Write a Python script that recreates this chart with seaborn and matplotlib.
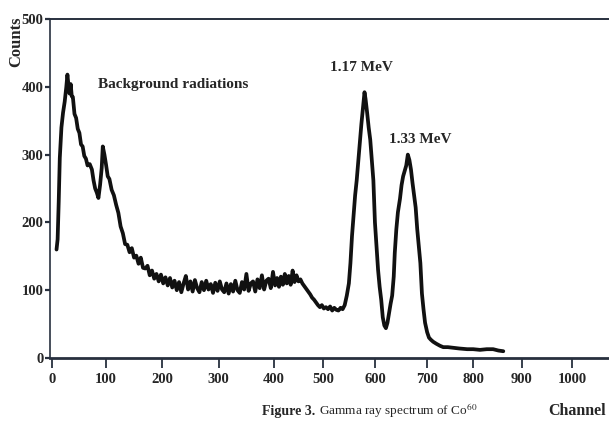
import numpy as np
import pandas as pd
import matplotlib
matplotlib.use("Agg")
import matplotlib.pyplot as plt
import seaborn as sns

# ========== Data ==========
channel = [9, 11, 13, 15, 18, 21, 24, 27, 29, 31, 33, 35, 37, 39, 42, 45, 48, 51, 54, 57,
           60, 63, 66, 70, 74, 77, 80, 83, 86, 89, 92, 94, 97, 100, 103, 106, 110, 114, 118, 122,
           126, 130, 134, 138, 142, 146, 150, 154, 158, 162, 166, 170, 174, 178, 182, 186, 190, 194, 198, 202,
           206, 210, 214, 218, 222, 226, 230, 234, 238, 242, 246, 250, 254, 258, 262, 266, 270, 274, 278, 282,
           286, 290, 294, 298, 302, 306, 310, 314, 318, 322, 326, 330, 334, 338, 342, 346, 350, 354, 358, 362,
           366, 370, 374, 378, 382, 386, 390, 394, 398, 402, 406, 410, 414, 418, 422, 426, 430, 434, 438, 442,
           446, 450, 454, 458, 462, 466, 470, 474, 478, 482, 486, 490, 494, 498, 502, 506, 510, 514, 518, 522,
           526, 530, 534, 538, 542, 546, 550, 553, 556, 559, 562, 565, 568, 571, 574, 577, 580, 582, 585, 588,
           591, 594, 597, 600, 603, 606, 609, 612, 615, 618, 621, 624, 627, 630, 633, 636, 638, 641, 644, 648,
           651, 654, 657, 660, 663, 666, 669, 672, 675, 678, 681, 684, 687, 690, 693, 696, 700, 704, 708, 713,
           720, 728, 735, 745, 757, 770, 787, 800, 814, 828, 841, 852, 862]
counts = [160, 175, 230, 295, 340, 362, 378, 400, 418, 402, 390, 404, 386, 385, 360, 354, 338, 332, 315, 312,
          298, 294, 284, 286, 278, 262, 250, 244, 236, 255, 280, 312, 300, 285, 268, 264, 248, 240, 226, 214,
          194, 184, 168, 167, 156, 162, 148, 151, 139, 148, 133, 132, 136, 122, 129, 117, 124, 113, 123, 110,
          119, 107, 118, 104, 114, 100, 112, 97, 110, 121, 101, 113, 98, 115, 103, 97, 112, 100, 114, 101,
          109, 96, 111, 99, 113, 101, 97, 110, 95, 109, 98, 114, 100, 96, 112, 101, 124, 99, 110, 113,
          98, 116, 103, 122, 101, 114, 117, 103, 127, 107, 118, 105, 120, 108, 124, 110, 121, 108, 129, 112,
          122, 113, 116, 110, 106, 102, 98, 94, 89, 86, 82, 78, 75, 78, 73, 75, 72, 76, 70, 74,
          71, 70, 74, 72, 78, 92, 110, 140, 180, 210, 240, 262, 290, 318, 345, 368, 392, 382, 362, 340,
          322, 292, 262, 200, 165, 130, 105, 86, 60, 48, 44, 52, 66, 80, 92, 120, 155, 190, 215, 235,
          255, 268, 276, 284, 300, 292, 278, 258, 240, 222, 190, 165, 140, 95, 72, 52, 38, 30, 27, 24,
          21, 18, 16, 16, 15, 14, 13, 13, 12, 13, 13, 11, 10]

x_ticks = [0, 100, 200, 300, 400, 500, 600, 700, 800, 900, 1000]
y_ticks = [0, 100, 200, 300, 400, 500]

peak_labels = ["1.17 MeV", "1.33 MeV"]

df = pd.DataFrame({"channel": channel, "counts": counts})

# the scanned x axis is unevenly stretched: follow its tick spacing (pixel spots)
tick_px = [51.6, 106, 162, 218.6, 274, 322.7, 374.8, 427, 473, 521.6, 572]
ext_ch = [-100] + x_ticks + [1200]
ext_px = [51.6 - 54.4] + tick_px + [572 + 2 * 50.4]

def fwd(v):
    return np.interp(v, ext_ch, ext_px)

def inv(p):
    return np.interp(p, ext_px, ext_ch)

# ========== Figure ==========
sns.set_style("ticks")
plt.rcParams["font.family"] = ["Liberation Serif", "DejaVu Serif"]
plt.rcParams["mathtext.fontset"] = "stix"

fig = plt.figure(figsize=(6.09, 4.21), dpi=100)
ax = fig.add_axes([50 / 609, 63 / 421, 559 / 609, 339 / 421])

sns.lineplot(data=df, x="channel", y="counts", ax=ax, color="#111111",
             linewidth=2.7, sort=False, estimator=None)

ax.set_xscale("function", functions=(fwd, inv))
ax.set_xlim(-3, 1073)
ax.set_ylim(0, 500)
ax.set_xticks(x_ticks)
ax.set_yticks(y_ticks)
ax.set_xticklabels([str(t) for t in x_ticks], fontweight="bold", fontsize=10.5)
ax.set_yticklabels([str(t) for t in y_ticks], fontweight="bold", fontsize=10.5)
ax.minorticks_off()
ax.set_xlabel("")
ax.set_ylabel("")

spine_col = "#28303e"
ax.spines["right"].set_visible(False)
ax.spines["top"].set_visible(True)
ax.spines["top"].set_color(spine_col)
ax.spines["top"].set_linewidth(1.4)
ax.spines["left"].set_color(spine_col)
ax.spines["left"].set_linewidth(1.2)
ax.spines["bottom"].set_color(spine_col)
ax.spines["bottom"].set_linewidth(2.0)
ax.tick_params(axis="x", length=7, width=1.3, color=spine_col, pad=4)
ax.tick_params(axis="y", length=3.8, width=1.6, color=spine_col, pad=1)

# annotations
ax.text(85, 404, "Background radiations", fontsize=11, fontweight="bold", ha="left", va="center")
ax.text(574, 428, peak_labels[0], fontsize=11, fontweight="bold", ha="center", va="center")
ax.text(687, 323, peak_labels[1], fontsize=11, fontweight="bold", ha="center", va="center")

fig.text(16 / 609, 1 - 42 / 421, "Counts", rotation=90, fontsize=12, fontweight="bold",
         ha="center", va="center")
fig.text(577 / 609, 1 - 411 / 421, "Channel", fontsize=11.5, fontweight="bold",
         ha="center", va="center")

# caption: bold "Figure 3." followed by the plain sentence on the same baseline
cap = fig.text(262 / 609, 6 / 421, "Figure 3.", fontsize=10, fontweight="bold",
               ha="left", va="baseline")
ax.annotate(r"Gamma ray spectrum of Co$^{60}$", xy=(1, 0), xycoords=cap,
            xytext=(3, 2.2), textcoords="offset points", fontsize=9.5,
            ha="left", va="baseline", annotation_clip=False)

plt.savefig("out.png", dpi=100)
plt.close()
